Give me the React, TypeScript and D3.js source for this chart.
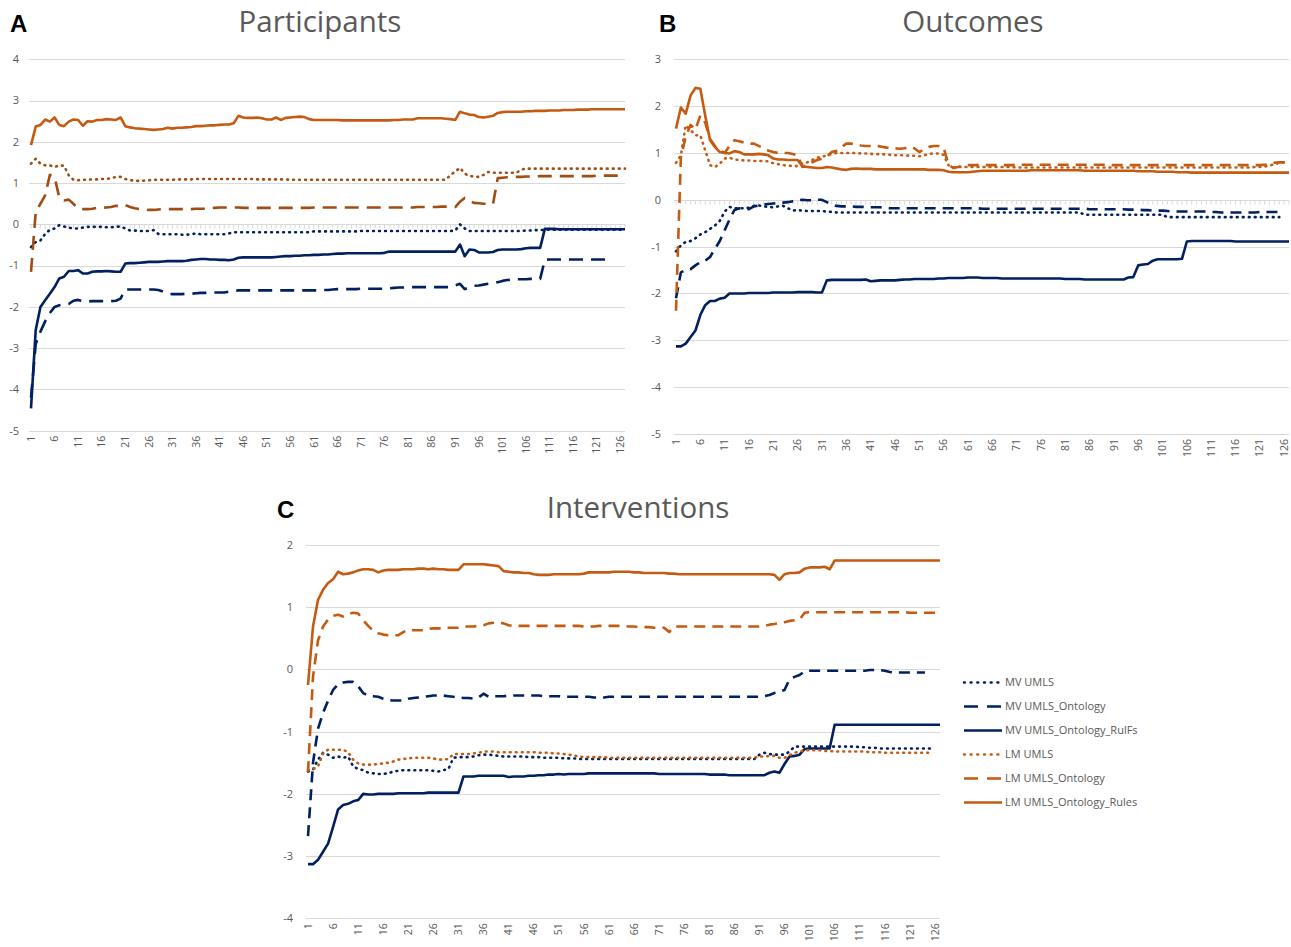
import React, { useEffect, useRef } from 'react';
import * as d3 from 'd3';

// x categories 1..127, labelled every 5
const xTickLabels = [1, 6, 11, 16, 21, 26, 31, 36, 41, 46, 51, 56, 61, 66, 71, 76, 81, 86, 91, 96, 101, 106, 111, 116, 121, 126];
const nCategories = 127;

const seriesNames = ['MV UMLS', 'MV UMLS_Ontology', 'MV UMLS_Ontology_RulFs', 'LM UMLS', 'LM UMLS_Ontology', 'LM UMLS_Ontology_Rules'];

// ---- Panel A : Participants
const aMvUmls = [
  -0.55, -0.43, -0.39, -0.23, -0.13, -0.1, -0.02, -0.05, -0.08, -0.1,
  -0.1, -0.08, -0.06, -0.06, -0.06, -0.06, -0.07, -0.07, -0.06, -0.05,
  -0.1, -0.15, -0.15, -0.16, -0.16, -0.16, -0.14, -0.23, -0.24, -0.24,
  -0.24, -0.24, -0.25, -0.25, -0.24, -0.22, -0.24, -0.24, -0.24, -0.24,
  -0.24, -0.24, -0.22, -0.19, -0.19, -0.19, -0.19, -0.19, -0.19, -0.19,
  -0.19, -0.19, -0.19, -0.19, -0.19, -0.19, -0.19, -0.19, -0.19, -0.19,
  -0.17, -0.17, -0.17, -0.17, -0.17, -0.17, -0.17, -0.17, -0.17, -0.17,
  -0.16, -0.16, -0.16, -0.16, -0.16, -0.16, -0.16, -0.16, -0.16, -0.16,
  -0.16, -0.16, -0.16, -0.16, -0.16, -0.16, -0.16, -0.16, -0.16, -0.16,
  -0.15, 0.0, -0.1, -0.16, -0.16, -0.16, -0.16, -0.16, -0.16, -0.16,
  -0.16, -0.16, -0.16, -0.16, -0.16, -0.15, -0.15, -0.14, -0.14, -0.13,
  -0.13, -0.13, -0.13, -0.13, -0.13, -0.13, -0.13, -0.13, -0.13, -0.13,
  -0.13, -0.13, -0.13, -0.13, -0.13, -0.13, -0.13,
];
const aMvOntology = [
  -4.2, -2.9, -2.6, -2.35, -2.15, -2.0, -1.96, -1.94, -1.93, -1.85,
  -1.83, -1.86, -1.87, -1.86, -1.86, -1.86, -1.86, -1.86, -1.85, -1.8,
  -1.58, -1.58, -1.58, -1.58, -1.58, -1.58, -1.58, -1.59, -1.63, -1.68,
  -1.69, -1.69, -1.69, -1.68, -1.68, -1.67, -1.66, -1.66, -1.65, -1.65,
  -1.65, -1.65, -1.63, -1.62, -1.6, -1.6, -1.6, -1.6, -1.6, -1.6,
  -1.6, -1.6, -1.6, -1.6, -1.6, -1.6, -1.6, -1.6, -1.6, -1.6,
  -1.6, -1.6, -1.59, -1.59, -1.58, -1.57, -1.57, -1.57, -1.57, -1.57,
  -1.56, -1.56, -1.56, -1.56, -1.56, -1.56, -1.55, -1.54, -1.53, -1.53,
  -1.52, -1.52, -1.52, -1.52, -1.52, -1.52, -1.52, -1.52, -1.52, -1.52,
  -1.48, -1.44, -1.57, -1.52, -1.49, -1.48, -1.46, -1.44, -1.43, -1.4,
  -1.37, -1.35, -1.34, -1.33, -1.33, -1.33, -1.32, -1.32, -1.32, -0.86,
  -0.85, -0.85, -0.85, -0.85, -0.85, -0.85, -0.85, -0.85, -0.85, -0.85,
  -0.85, -0.85, -0.85, -0.85,
];
const aMvRules = [
  -4.46, -2.56, -2.0, -1.84, -1.68, -1.52, -1.31, -1.27, -1.13, -1.13,
  -1.11, -1.19, -1.19, -1.15, -1.14, -1.14, -1.13, -1.14, -1.15, -1.15,
  -0.95, -0.94, -0.94, -0.93, -0.92, -0.91, -0.91, -0.91, -0.9, -0.89,
  -0.89, -0.89, -0.89, -0.88, -0.86, -0.85, -0.84, -0.84, -0.85, -0.85,
  -0.86, -0.86, -0.87, -0.85, -0.81, -0.8, -0.8, -0.8, -0.8, -0.8,
  -0.8, -0.8, -0.79, -0.78, -0.77, -0.77, -0.76, -0.76, -0.75, -0.75,
  -0.74, -0.74, -0.73, -0.73, -0.72, -0.71, -0.71, -0.7, -0.7, -0.7,
  -0.7, -0.7, -0.7, -0.7, -0.7, -0.69, -0.66, -0.66, -0.66, -0.66,
  -0.66, -0.66, -0.66, -0.66, -0.66, -0.66, -0.66, -0.66, -0.66, -0.66,
  -0.66, -0.49, -0.77, -0.61, -0.62, -0.68, -0.68, -0.68, -0.67, -0.62,
  -0.61, -0.61, -0.61, -0.61, -0.6, -0.58, -0.57, -0.57, -0.57, -0.11,
  -0.11, -0.11, -0.12, -0.12, -0.12, -0.12, -0.12, -0.12, -0.12, -0.12,
  -0.12, -0.12, -0.12, -0.12, -0.12, -0.12, -0.12,
];
const aLmUmls = [
  1.47, 1.59, 1.47, 1.43, 1.43, 1.39, 1.43, 1.42, 1.19, 1.08,
  1.07, 1.08, 1.08, 1.09, 1.09, 1.1, 1.1, 1.12, 1.15, 1.15,
  1.1, 1.07, 1.06, 1.05, 1.06, 1.07, 1.08, 1.08, 1.08, 1.08,
  1.08, 1.09, 1.09, 1.09, 1.09, 1.1, 1.1, 1.1, 1.1, 1.1,
  1.1, 1.1, 1.1, 1.1, 1.1, 1.1, 1.1, 1.1, 1.09, 1.09,
  1.09, 1.09, 1.09, 1.09, 1.09, 1.08, 1.08, 1.08, 1.08, 1.08,
  1.08, 1.08, 1.08, 1.08, 1.08, 1.08, 1.08, 1.08, 1.08, 1.08,
  1.08, 1.08, 1.08, 1.08, 1.08, 1.08, 1.08, 1.08, 1.08, 1.08,
  1.08, 1.08, 1.08, 1.08, 1.08, 1.08, 1.08, 1.08, 1.08, 1.2,
  1.28, 1.37, 1.23, 1.17, 1.16, 1.15, 1.2, 1.27, 1.25, 1.25,
  1.25, 1.25, 1.25, 1.25, 1.33, 1.35, 1.35, 1.35, 1.35, 1.35,
  1.35, 1.35, 1.35, 1.35, 1.35, 1.35, 1.35, 1.35, 1.35, 1.35,
  1.35, 1.35, 1.35, 1.35, 1.35, 1.35, 1.35,
];
const aLmOntology = [
  -1.15, 0.3, 0.5, 0.7, 1.2, 1.15, 0.65, 0.58, 0.6, 0.5,
  0.38, 0.37, 0.37, 0.38, 0.4, 0.4, 0.41, 0.42, 0.45, 0.43,
  0.47, 0.42, 0.39, 0.37, 0.36, 0.35, 0.35, 0.36, 0.37, 0.37,
  0.37, 0.37, 0.37, 0.37, 0.37, 0.38, 0.38, 0.38, 0.39, 0.4,
  0.41, 0.41, 0.41, 0.41, 0.41, 0.4, 0.4, 0.4, 0.4, 0.4,
  0.4, 0.4, 0.4, 0.4, 0.4, 0.4, 0.4, 0.4, 0.4, 0.4,
  0.41, 0.41, 0.41, 0.41, 0.41, 0.41, 0.41, 0.41, 0.41, 0.41,
  0.41, 0.41, 0.41, 0.41, 0.41, 0.41, 0.41, 0.41, 0.41, 0.41,
  0.41, 0.41, 0.42, 0.42, 0.42, 0.42, 0.42, 0.43, 0.43, 0.43,
  0.42, 0.55, 0.64, 0.56, 0.52, 0.51, 0.5, 0.5, 0.49, 1.12,
  1.13, 1.14, 1.15, 1.15, 1.15, 1.16, 1.16, 1.16, 1.17, 1.17,
  1.17, 1.17, 1.17, 1.17, 1.17, 1.17, 1.17, 1.17, 1.17, 1.17,
  1.18, 1.18, 1.18, 1.18, 1.18, 1.18, 1.18,
];
const aLmRules = [
  1.92, 2.37, 2.41, 2.54, 2.49, 2.59, 2.41, 2.38, 2.49, 2.54,
  2.53, 2.39, 2.5, 2.49, 2.53, 2.53, 2.55, 2.54, 2.53, 2.59,
  2.38, 2.35, 2.33, 2.32, 2.31, 2.3, 2.29, 2.3, 2.31, 2.34,
  2.32, 2.34, 2.34, 2.35, 2.36, 2.38, 2.38, 2.39, 2.4, 2.4,
  2.41, 2.42, 2.42, 2.45, 2.63, 2.59, 2.58, 2.58, 2.59, 2.57,
  2.54, 2.54, 2.59, 2.53, 2.58, 2.59, 2.6, 2.61, 2.6, 2.55,
  2.53, 2.53, 2.53, 2.53, 2.53, 2.53, 2.52, 2.52, 2.52, 2.52,
  2.52, 2.52, 2.52, 2.52, 2.52, 2.52, 2.52, 2.53, 2.53, 2.54,
  2.54, 2.54, 2.57, 2.57, 2.57, 2.57, 2.57, 2.57, 2.56, 2.55,
  2.53, 2.73, 2.69, 2.66, 2.65, 2.6, 2.59, 2.61, 2.63, 2.7,
  2.72, 2.73, 2.73, 2.73, 2.73, 2.74, 2.74, 2.75, 2.75, 2.75,
  2.76, 2.76, 2.76, 2.77, 2.77, 2.77, 2.78, 2.78, 2.78, 2.79,
  2.79, 2.79, 2.79, 2.79, 2.79, 2.79, 2.79,
];

// ---- Panel B : Outcomes
const bMvUmls = [
  -1.1, -0.97, -0.9, -0.88, -0.82, -0.74, -0.69, -0.62, -0.55, -0.45,
  -0.25, -0.15, -0.18, -0.18, -0.18, -0.17, -0.13, -0.12, -0.14, -0.15,
  -0.16, -0.14, -0.13, -0.18, -0.23, -0.22, -0.23, -0.24, -0.24, -0.24,
  -0.24, -0.25, -0.26, -0.27, -0.27, -0.27, -0.27, -0.27, -0.27, -0.27,
  -0.27, -0.27, -0.27, -0.27, -0.27, -0.27, -0.27, -0.27, -0.27, -0.27,
  -0.27, -0.27, -0.27, -0.27, -0.27, -0.27, -0.27, -0.27, -0.27, -0.27,
  -0.27, -0.27, -0.27, -0.27, -0.27, -0.27, -0.27, -0.27, -0.27, -0.27,
  -0.27, -0.27, -0.27, -0.27, -0.27, -0.27, -0.27, -0.27, -0.27, -0.27,
  -0.27, -0.27, -0.27, -0.27, -0.32, -0.32, -0.32, -0.32, -0.32, -0.32,
  -0.32, -0.32, -0.32, -0.32, -0.32, -0.32, -0.32, -0.32, -0.32, -0.32,
  -0.32, -0.37, -0.37, -0.37, -0.37, -0.37, -0.37, -0.37, -0.37, -0.37,
  -0.37, -0.37, -0.37, -0.37, -0.37, -0.37, -0.37, -0.37, -0.37, -0.37,
  -0.37, -0.37, -0.37, -0.37, -0.37,
];
const bMvOntology = [
  -2.1, -1.55, -1.5, -1.48, -1.4, -1.33, -1.3, -1.22, -1.05, -0.88,
  -0.65, -0.42, -0.22, -0.18, -0.19, -0.2, -0.14, -0.12, -0.1, -0.09,
  -0.08, -0.07, -0.06, -0.05, -0.03, -0.01, 0.0, -0.01, -0.01, 0.0,
  0.0, -0.05, -0.1, -0.13, -0.14, -0.14, -0.14, -0.15, -0.15, -0.15,
  -0.16, -0.16, -0.16, -0.17, -0.18, -0.18, -0.18, -0.18, -0.18, -0.18,
  -0.18, -0.18, -0.18, -0.18, -0.18, -0.18, -0.18, -0.18, -0.18, -0.18,
  -0.18, -0.18, -0.18, -0.19, -0.19, -0.19, -0.19, -0.19, -0.19, -0.19,
  -0.19, -0.19, -0.19, -0.19, -0.19, -0.19, -0.19, -0.19, -0.19, -0.19,
  -0.19, -0.19, -0.19, -0.19, -0.19, -0.2, -0.2, -0.2, -0.2, -0.2,
  -0.2, -0.2, -0.2, -0.21, -0.21, -0.21, -0.22, -0.22, -0.23, -0.23,
  -0.23, -0.24, -0.25, -0.25, -0.25, -0.25, -0.25, -0.25, -0.25, -0.25,
  -0.26, -0.26, -0.27, -0.27, -0.27, -0.27, -0.27, -0.27, -0.27, -0.27,
  -0.26, -0.26, -0.26, -0.26, -0.26,
];
const bMvRules = [
  -3.13, -3.13, -3.07, -2.93, -2.79, -2.46, -2.25, -2.16, -2.16, -2.11,
  -2.09, -2.0, -2.0, -2.0, -2.0, -1.99, -1.99, -1.99, -1.99, -1.99,
  -1.98, -1.98, -1.98, -1.98, -1.98, -1.97, -1.97, -1.97, -1.97, -1.98,
  -1.98, -1.72, -1.71, -1.71, -1.71, -1.71, -1.71, -1.71, -1.71, -1.7,
  -1.74, -1.73, -1.72, -1.72, -1.72, -1.72, -1.71, -1.7, -1.7, -1.69,
  -1.69, -1.69, -1.69, -1.69, -1.68, -1.68, -1.67, -1.67, -1.67, -1.67,
  -1.66, -1.66, -1.66, -1.67, -1.67, -1.67, -1.67, -1.68, -1.68, -1.68,
  -1.68, -1.68, -1.68, -1.68, -1.68, -1.68, -1.68, -1.68, -1.68, -1.68,
  -1.69, -1.69, -1.69, -1.69, -1.7, -1.7, -1.7, -1.7, -1.7, -1.7,
  -1.7, -1.7, -1.7, -1.66, -1.65, -1.4, -1.38, -1.37, -1.3, -1.27,
  -1.27, -1.27, -1.27, -1.27, -1.26, -0.89, -0.88, -0.88, -0.88, -0.88,
  -0.88, -0.88, -0.88, -0.88, -0.88, -0.89, -0.89, -0.89, -0.89, -0.89,
  -0.89, -0.89, -0.89, -0.89, -0.89, -0.89, -0.89,
];
const bLmUmls = [
  0.79, 0.95, 1.59, 1.49, 1.38, 1.38, 1.06, 0.74, 0.7, 0.77,
  0.88, 0.9, 0.86, 0.85, 0.84, 0.84, 0.83, 0.83, 0.83, 0.82,
  0.78, 0.76, 0.74, 0.73, 0.72, 0.72, 0.78, 0.8, 0.85, 0.9,
  0.92, 0.95, 0.98, 1.0, 1.0, 1.0, 1.0, 1.0, 0.99, 0.99,
  0.98, 0.98, 0.97, 0.97, 0.96, 0.95, 0.95, 0.95, 0.94, 0.94,
  0.93, 0.95, 0.98, 0.99, 0.99, 0.96, 0.74, 0.69, 0.7, 0.7,
  0.7, 0.7, 0.7, 0.7, 0.7, 0.7, 0.7, 0.7, 0.7, 0.7,
  0.69, 0.69, 0.69, 0.69, 0.69, 0.69, 0.69, 0.69, 0.69, 0.69,
  0.69, 0.69, 0.69, 0.69, 0.69, 0.69, 0.69, 0.69, 0.69, 0.69,
  0.69, 0.69, 0.69, 0.69, 0.69, 0.69, 0.69, 0.69, 0.69, 0.69,
  0.69, 0.69, 0.69, 0.69, 0.69, 0.69, 0.69, 0.69, 0.69, 0.69,
  0.69, 0.69, 0.69, 0.69, 0.69, 0.69, 0.69, 0.69, 0.69, 0.7,
  0.7, 0.71, 0.73, 0.76, 0.79, 0.8, 0.8,
];
const bLmOntology = [
  -2.37, 0.9, 1.35, 1.6, 1.5, 1.8, 1.65, 1.3, 1.15, 1.05,
  1.0, 1.15, 1.27, 1.25, 1.22, 1.2, 1.2, 1.15, 1.1, 1.05,
  1.02, 1.0, 1.0, 1.0, 0.98, 0.95, 0.7, 0.77, 0.8, 0.85,
  0.88, 0.92, 1.02, 1.05, 1.12, 1.2, 1.2, 1.18, 1.16, 1.15,
  1.15, 1.15, 1.14, 1.12, 1.1, 1.1, 1.09, 1.1, 1.13, 1.1,
  1.02, 1.08, 1.13, 1.15, 1.15, 1.12, 0.75, 0.68, 0.7, 0.73,
  0.74, 0.74, 0.74, 0.74, 0.74, 0.74, 0.74, 0.74, 0.74, 0.74,
  0.75, 0.75, 0.75, 0.75, 0.75, 0.75, 0.75, 0.75, 0.75, 0.75,
  0.75, 0.75, 0.75, 0.75, 0.75, 0.75, 0.75, 0.75, 0.75, 0.75,
  0.74, 0.74, 0.74, 0.74, 0.74, 0.74, 0.74, 0.74, 0.74, 0.74,
  0.74, 0.74, 0.74, 0.74, 0.74, 0.74, 0.74, 0.74, 0.74, 0.74,
  0.74, 0.74, 0.74, 0.74, 0.74, 0.74, 0.74, 0.74, 0.74, 0.74,
  0.74, 0.75, 0.76, 0.79, 0.8, 0.8, 0.8,
];
const bLmRules = [
  1.52, 1.97, 1.84, 2.23, 2.39, 2.37, 1.8, 1.27, 1.13, 1.02,
  1.0, 0.99, 1.04, 1.02, 0.97, 0.97, 0.97, 0.98, 0.97, 0.95,
  0.88, 0.86, 0.86, 0.85, 0.85, 0.85, 0.71, 0.7, 0.69, 0.68,
  0.68, 0.7, 0.69, 0.67, 0.65, 0.64, 0.66, 0.67, 0.66, 0.66,
  0.66, 0.65, 0.65, 0.65, 0.65, 0.65, 0.65, 0.65, 0.65, 0.65,
  0.65, 0.65, 0.64, 0.64, 0.64, 0.63, 0.6, 0.59, 0.59, 0.59,
  0.59, 0.6, 0.61, 0.62, 0.62, 0.62, 0.62, 0.62, 0.62, 0.62,
  0.62, 0.62, 0.62, 0.63, 0.63, 0.63, 0.63, 0.63, 0.63, 0.63,
  0.63, 0.63, 0.63, 0.63, 0.62, 0.62, 0.62, 0.62, 0.62, 0.62,
  0.62, 0.62, 0.62, 0.62, 0.62, 0.61, 0.61, 0.61, 0.61, 0.6,
  0.6, 0.6, 0.6, 0.59, 0.59, 0.59, 0.58, 0.58, 0.58, 0.58,
  0.58, 0.58, 0.58, 0.58, 0.58, 0.58, 0.58, 0.58, 0.58, 0.58,
  0.58, 0.58, 0.58, 0.58, 0.58, 0.58, 0.58,
];

// ---- Panel C : Interventions
const cMvUmls = [
  -1.64, -1.61, -1.45, -1.34, -1.37, -1.42, -1.4, -1.42, -1.4, -1.56,
  -1.6, -1.62, -1.66, -1.67, -1.68, -1.68, -1.67, -1.64, -1.63, -1.62,
  -1.62, -1.62, -1.62, -1.62, -1.62, -1.63, -1.64, -1.62, -1.6, -1.42,
  -1.41, -1.41, -1.41, -1.4, -1.38, -1.37, -1.37, -1.38, -1.39, -1.4,
  -1.4, -1.4, -1.4, -1.4, -1.41, -1.41, -1.41, -1.42, -1.42, -1.42,
  -1.42, -1.43, -1.43, -1.43, -1.44, -1.44, -1.44, -1.44, -1.44, -1.44,
  -1.44, -1.44, -1.44, -1.44, -1.44, -1.44, -1.44, -1.44, -1.44, -1.44,
  -1.44, -1.44, -1.44, -1.44, -1.44, -1.44, -1.44, -1.44, -1.44, -1.44,
  -1.44, -1.44, -1.44, -1.44, -1.44, -1.44, -1.44, -1.44, -1.44, -1.44,
  -1.37, -1.34, -1.36, -1.37, -1.37, -1.37, -1.32, -1.24, -1.24, -1.24,
  -1.24, -1.24, -1.24, -1.24, -1.24, -1.24, -1.24, -1.24, -1.24, -1.24,
  -1.25, -1.25, -1.26, -1.26, -1.27, -1.27, -1.27, -1.27, -1.27, -1.27,
  -1.27, -1.27, -1.27, -1.27, -1.27,
];
const cMvOntology = [
  -2.68, -1.5, -0.95, -0.7, -0.5, -0.33, -0.24, -0.21, -0.2, -0.2,
  -0.27, -0.38, -0.42, -0.43, -0.44, -0.47, -0.49, -0.5, -0.5, -0.5,
  -0.47, -0.46, -0.45, -0.44, -0.43, -0.42, -0.42, -0.42, -0.43, -0.44,
  -0.45, -0.46, -0.46, -0.47, -0.45, -0.39, -0.44, -0.43, -0.43, -0.43,
  -0.42, -0.42, -0.42, -0.42, -0.42, -0.42, -0.42, -0.43, -0.43, -0.43,
  -0.43, -0.44, -0.44, -0.44, -0.44, -0.44, -0.44, -0.45, -0.45, -0.45,
  -0.44, -0.44, -0.44, -0.44, -0.44, -0.44, -0.44, -0.44, -0.44, -0.44,
  -0.44, -0.44, -0.44, -0.44, -0.44, -0.44, -0.44, -0.44, -0.44, -0.44,
  -0.44, -0.44, -0.44, -0.44, -0.44, -0.44, -0.44, -0.44, -0.44, -0.44,
  -0.44, -0.43, -0.41, -0.38, -0.36, -0.33, -0.16, -0.12, -0.09, -0.03,
  -0.02, -0.02, -0.02, -0.02, -0.02, -0.02, -0.02, -0.02, -0.02, -0.02,
  -0.02, -0.02, -0.01, -0.01, -0.01, -0.02, -0.04, -0.05, -0.05, -0.05,
  -0.05, -0.05, -0.05, -0.05,
];
const cMvRules = [
  -3.13, -3.13, -3.06, -2.93, -2.8, -2.53, -2.25, -2.18, -2.16, -2.12,
  -2.1, -2.0, -2.01, -2.01, -2.0, -2.0, -2.0, -2.0, -1.99, -1.99,
  -1.99, -1.99, -1.99, -1.99, -1.98, -1.98, -1.98, -1.98, -1.98, -1.98,
  -1.98, -1.72, -1.72, -1.72, -1.71, -1.71, -1.71, -1.71, -1.71, -1.71,
  -1.73, -1.72, -1.72, -1.72, -1.71, -1.71, -1.7, -1.7, -1.69, -1.69,
  -1.68, -1.69, -1.68, -1.68, -1.68, -1.68, -1.67, -1.67, -1.67, -1.67,
  -1.67, -1.67, -1.67, -1.67, -1.67, -1.67, -1.67, -1.67, -1.67, -1.67,
  -1.68, -1.68, -1.68, -1.68, -1.68, -1.68, -1.68, -1.68, -1.68, -1.68,
  -1.69, -1.69, -1.69, -1.69, -1.7, -1.7, -1.7, -1.7, -1.7, -1.7,
  -1.7, -1.7, -1.66, -1.64, -1.66, -1.52, -1.4, -1.39, -1.37, -1.28,
  -1.27, -1.27, -1.27, -1.27, -1.27, -0.89, -0.89, -0.89, -0.89, -0.89,
  -0.89, -0.89, -0.89, -0.89, -0.89, -0.89, -0.89, -0.89, -0.89, -0.89,
  -0.89, -0.89, -0.89, -0.89, -0.89, -0.89, -0.89,
];
const cLmUmls = [
  -1.62, -1.6, -1.56, -1.35, -1.29, -1.29, -1.29, -1.29, -1.33, -1.45,
  -1.51, -1.53, -1.53, -1.53, -1.52, -1.51, -1.5, -1.48, -1.45, -1.44,
  -1.43, -1.42, -1.42, -1.42, -1.42, -1.43, -1.45, -1.45, -1.44, -1.36,
  -1.36, -1.36, -1.36, -1.35, -1.34, -1.32, -1.32, -1.32, -1.33, -1.33,
  -1.33, -1.33, -1.33, -1.33, -1.33, -1.33, -1.34, -1.34, -1.34, -1.35,
  -1.35, -1.36, -1.37, -1.38, -1.4, -1.41, -1.41, -1.41, -1.41, -1.41,
  -1.42, -1.42, -1.42, -1.42, -1.42, -1.42, -1.42, -1.42, -1.42, -1.42,
  -1.42, -1.42, -1.42, -1.42, -1.42, -1.42, -1.42, -1.42, -1.42, -1.42,
  -1.42, -1.42, -1.42, -1.42, -1.42, -1.42, -1.42, -1.42, -1.42, -1.42,
  -1.4, -1.4, -1.39, -1.39, -1.42, -1.42, -1.38, -1.34, -1.32, -1.3,
  -1.3, -1.3, -1.3, -1.31, -1.31, -1.32, -1.32, -1.32, -1.32, -1.32,
  -1.32, -1.32, -1.33, -1.33, -1.33, -1.34, -1.34, -1.34, -1.34, -1.34,
  -1.34, -1.34, -1.34, -1.34, -1.34,
];
const cLmOntology = [
  -1.65, -0.12, 0.47, 0.69, 0.8, 0.86, 0.88, 0.85, 0.89, 0.91,
  0.9, 0.79, 0.7, 0.62, 0.58, 0.56, 0.55, 0.55, 0.55, 0.6,
  0.64, 0.63, 0.63, 0.63, 0.65, 0.66, 0.66, 0.66, 0.67, 0.67,
  0.67, 0.69, 0.69, 0.69, 0.7, 0.71, 0.74, 0.75, 0.75, 0.74,
  0.71, 0.7, 0.7, 0.7, 0.7, 0.7, 0.7, 0.7, 0.7, 0.7,
  0.7, 0.7, 0.7, 0.7, 0.7, 0.69, 0.69, 0.69, 0.7, 0.7,
  0.7, 0.7, 0.7, 0.7, 0.69, 0.69, 0.68, 0.68, 0.68, 0.67,
  0.67, 0.67, 0.6, 0.69, 0.69, 0.69, 0.69, 0.69, 0.69, 0.69,
  0.69, 0.69, 0.69, 0.69, 0.69, 0.69, 0.69, 0.69, 0.69, 0.69,
  0.69, 0.7, 0.72, 0.73, 0.75, 0.76, 0.78, 0.79, 0.8, 0.91,
  0.92, 0.92, 0.92, 0.92, 0.92, 0.92, 0.92, 0.92, 0.92, 0.92,
  0.92, 0.92, 0.92, 0.92, 0.92, 0.92, 0.92, 0.92, 0.92, 0.92,
  0.91, 0.91, 0.91, 0.91, 0.91, 0.91, 0.91,
];
const cLmRules = [
  -0.25, 0.69, 1.12, 1.28, 1.39, 1.45, 1.57, 1.53, 1.54, 1.56,
  1.59, 1.61, 1.61, 1.6, 1.56, 1.59, 1.6, 1.6, 1.6, 1.61,
  1.61, 1.61, 1.62, 1.62, 1.61, 1.62, 1.61, 1.61, 1.6, 1.6,
  1.6, 1.69, 1.69, 1.69, 1.69, 1.69, 1.68, 1.67, 1.66, 1.58,
  1.57, 1.56, 1.56, 1.55, 1.55, 1.53, 1.52, 1.52, 1.52, 1.53,
  1.53, 1.53, 1.53, 1.53, 1.53, 1.54, 1.56, 1.56, 1.56, 1.56,
  1.56, 1.57, 1.57, 1.57, 1.57, 1.56, 1.56, 1.55, 1.55, 1.55,
  1.55, 1.55, 1.54, 1.54, 1.53, 1.53, 1.53, 1.53, 1.53, 1.53,
  1.53, 1.53, 1.53, 1.53, 1.53, 1.53, 1.53, 1.53, 1.53, 1.53,
  1.53, 1.53, 1.53, 1.52, 1.44, 1.53, 1.55, 1.55, 1.56, 1.62,
  1.64, 1.64, 1.64, 1.65, 1.61, 1.75, 1.75, 1.75, 1.75, 1.75,
  1.75, 1.75, 1.75, 1.75, 1.75, 1.75, 1.75, 1.75, 1.75, 1.75,
  1.75, 1.75, 1.75, 1.75, 1.75, 1.75, 1.75,
];

const NAVY = '#002060';
const ORANGE = '#C55A11';
const BROWN = '#A04C12';
const GRID = '#d9d9d9';
const TEXT = '#595959';

const DOT = '0.8 5.2';

const panels = [
  {
    letter: 'A', letterPos: [10, 32], title: 'Participants', titlePos: [320, 32],
    xRange: [31, 625], yDomain: [-5, 4], yRange: [430.7, 59.3], yTicks: [4, 3, 2, 1, 0, -1, -2, -3, -4, -5],
    yLabelX: 19, axisTicks: true, dash: '14 8',
    series: [aMvUmls, aMvOntology, aMvRules, aLmUmls, aLmOntology, aLmRules],
    colors: [NAVY, NAVY, NAVY, BROWN, BROWN, ORANGE],
  },
  {
    letter: 'B', letterPos: [659, 32], title: 'Outcomes', titlePos: [973, 32],
    xRange: [676, 1289], yDomain: [-5, 3], yRange: [434, 59.3], yTicks: [3, 2, 1, 0, -1, -2, -3, -4, -5],
    yLabelX: 661, axisTicks: true, dash: '11 7',
    series: [bMvUmls, bMvOntology, bMvRules, bLmUmls, bLmOntology, bLmRules],
    colors: [NAVY, NAVY, NAVY, ORANGE, ORANGE, ORANGE],
  },
  {
    letter: 'C', letterPos: [277, 518], title: 'Interventions', titlePos: [638, 518],
    xRange: [308, 940], yDomain: [-4, 2], yRange: [918.3, 545], yTicks: [2, 1, 0, -1, -2, -3, -4],
    yLabelX: 293, axisTicks: false, dash: '11 7',
    series: [cMvUmls, cMvOntology, cMvRules, cLmUmls, cLmOntology, cLmRules],
    colors: [NAVY, NAVY, NAVY, ORANGE, ORANGE, ORANGE],
  },
];

// dotted, dashed, solid for each model
const lineKinds = ['dot', 'dash', 'solid', 'dot', 'dash', 'solid'];

function drawPanel(svg: any, p: any) {
  const x = d3.scaleLinear().domain([1, nCategories]).range(p.xRange);
  const y = d3.scaleLinear().domain(p.yDomain).range(p.yRange);
  const g = svg.append('g');

  g.selectAll('line.grid')
    .data(p.yTicks)
    .enter()
    .append('line')
    .attr('x1', p.xRange[0] - 2)
    .attr('x2', p.xRange[1])
    .attr('y1', (d: number) => Math.round(y(d)) + 0.5)
    .attr('y2', (d: number) => Math.round(y(d)) + 0.5)
    .attr('stroke', GRID)
    .attr('stroke-width', 1);

  if (p.axisTicks) {
    const y0 = Math.round(y(0)) + 0.5;
    g.selectAll('line.tick')
      .data(d3.range(1, nCategories + 1))
      .enter()
      .append('line')
      .attr('x1', (d: number) => x(d))
      .attr('x2', (d: number) => x(d))
      .attr('y1', y0)
      .attr('y2', y0 + 4)
      .attr('stroke', GRID)
      .attr('stroke-width', 1);
  }

  g.selectAll('text.ylab')
    .data(p.yTicks)
    .enter()
    .append('text')
    .attr('x', p.yLabelX)
    .attr('y', (d: number) => y(d))
    .attr('dy', '0.35em')
    .attr('text-anchor', 'end')
    .style('font-family', 'Open Sans, sans-serif')
    .style('font-size', '11px')
    .style('fill', TEXT)
    .text((d: number) => d);

  g.selectAll('text.xlab')
    .data(xTickLabels)
    .enter()
    .append('text')
    .attr('transform', (d: number) => `translate(${x(d)},${p.yRange[0] + 5}) rotate(-90)`)
    .attr('dy', '0.35em')
    .attr('text-anchor', 'end')
    .style('font-family', 'Open Sans, sans-serif')
    .style('font-size', '10.5px')
    .style('fill', TEXT)
    .text((d: number) => d);

  const line = d3.line<number>()
    .x((d, i) => x(i + 1))
    .y(d => y(d));

  p.series.forEach((s: number[], k: number) => {
    const kind = lineKinds[k];
    g.append('path')
      .datum(s)
      .attr('d', line)
      .attr('fill', 'none')
      .attr('stroke', p.colors[k])
      .attr('stroke-width', 2.6)
      .attr('stroke-linejoin', 'round')
      .attr('stroke-linecap', kind === 'dot' ? 'round' : 'butt')
      .attr('stroke-dasharray', kind === 'dot' ? DOT : kind === 'dash' ? p.dash : null);
  });

  svg.append('text')
    .attr('x', p.letterPos[0])
    .attr('y', p.letterPos[1])
    .style('font-family', 'Liberation Sans, Arial, sans-serif')
    .style('font-weight', 'bold')
    .style('font-size', '24px')
    .style('fill', '#000')
    .text(p.letter);

  svg.append('text')
    .attr('x', p.titlePos[0])
    .attr('y', p.titlePos[1])
    .attr('text-anchor', 'middle')
    .style('font-family', 'Open Sans, sans-serif')
    .style('font-size', '29.5px')
    .style('fill', TEXT)
    .text(p.title);
}

function drawLegend(svg: any) {
  const colors = [NAVY, NAVY, NAVY, ORANGE, ORANGE, ORANGE];
  const lg = svg.append('g').attr('transform', 'translate(964,682.5)');
  seriesNames.forEach((name, k) => {
    const kind = lineKinds[k];
    const row = lg.append('g').attr('transform', `translate(0,${k * 24})`);
    row.append('line')
      .attr('x1', 0).attr('x2', 38).attr('y1', 0).attr('y2', 0)
      .attr('stroke', colors[k])
      .attr('stroke-width', 2.6)
      .attr('stroke-linecap', kind === 'dot' ? 'round' : 'butt')
      .attr('stroke-dasharray', kind === 'dot' ? '0.8 5.9' : kind === 'dash' ? '14 9' : null);
    row.append('text')
      .attr('x', 41)
      .attr('y', 0)
      .attr('dy', '0.35em')
      .style('font-family', 'Open Sans, sans-serif')
      .style('font-size', '11px')
      .style('fill', TEXT)
      .text(name);
  });
}

export default function App() {
  const ref = useRef<SVGSVGElement>(null);

  useEffect(() => {
    const svg = d3.select(ref.current);
    svg.selectAll('*').remove();
    panels.forEach(p => drawPanel(svg, p));
    drawLegend(svg);
  }, []);

  return (
    <svg
      ref={ref}
      width={1291}
      height={947}
      style={{ position: 'absolute', left: 0, top: 0, background: '#fff' }}
    />
  );
}
